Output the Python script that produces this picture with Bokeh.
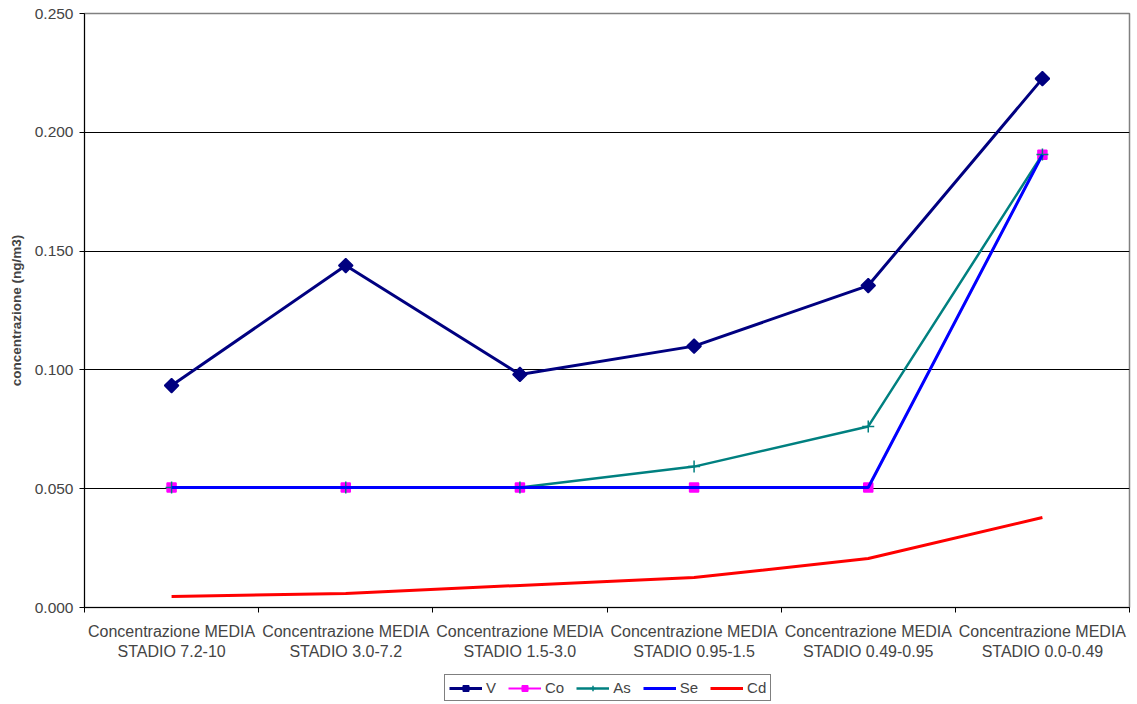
import math
from bokeh.plotting import figure
from bokeh.layouts import column
from bokeh.models import (FixedTicker, Legend, LegendItem, Range1d, NumeralTickFormatter)
from bokeh.embed import file_html
from bokeh.resources import INLINE

categories = ["Concentrazione MEDIA\nSTADIO 7.2-10", "Concentrazione MEDIA\nSTADIO 3.0-7.2",
              "Concentrazione MEDIA\nSTADIO 1.5-3.0", "Concentrazione MEDIA\nSTADIO 0.95-1.5",
              "Concentrazione MEDIA\nSTADIO 0.49-0.95", "Concentrazione MEDIA\nSTADIO 0.0-0.49"]
V = [0.0934, 0.1439, 0.0981, 0.1100, 0.1355, 0.2226]
Co = [0.0505, 0.0505, 0.0505, 0.0505, 0.0505, 0.1905]
As = [0.0505, 0.0505, 0.0505, 0.0593, 0.0762, 0.1907]
Se = [0.0505, 0.0505, 0.0505, 0.0505, 0.0505, 0.1905]
Cd = [0.0046, 0.0059, 0.0093, 0.0126, 0.0206, 0.0379]
y_ticks = [0.0, 0.05, 0.10, 0.15, 0.20, 0.25]

xs = [i + 0.5 for i in range(len(categories))]
FONT = "Liberation Sans"
W = 1131

p = figure(width=W, height=662, output_backend="svg", toolbar_location=None,
           x_range=Range1d(0, len(categories)), y_range=Range1d(0, 0.25),
           min_border_left=84, min_border_top=13, min_border_right=2, min_border_bottom=55,
           outline_line_color="#808080", outline_line_width=1.5)

# axes
p.xaxis.axis_label = None
p.xaxis.ticker = FixedTicker(ticks=xs, minor_ticks=list(range(len(categories) + 1)))
p.xaxis.major_label_overrides = {x: c for x, c in zip(xs, categories)}
p.xaxis.major_tick_line_color = None
p.xaxis.minor_tick_line_color = "black"
p.xaxis.minor_tick_out = 5
p.xaxis.minor_tick_in = 0
p.xaxis.axis_line_color = "black"
p.xaxis.major_label_text_font = FONT
p.xaxis.major_label_text_font_size = "16px"
p.xaxis.major_label_standoff = 9

p.yaxis.ticker = FixedTicker(ticks=y_ticks, minor_ticks=[])
p.yaxis.formatter = NumeralTickFormatter(format="0.000")
p.yaxis.major_tick_out = 5
p.yaxis.major_tick_in = 0
p.yaxis.axis_line_color = "black"
p.yaxis.major_tick_line_color = "black"
p.yaxis.major_label_text_font = FONT
p.yaxis.major_label_text_font_size = "15.5px"
p.yaxis.major_label_standoff = 6
p.yaxis.axis_label = "concentrazione (ng/m3)"
p.yaxis.axis_label_text_font = FONT
p.yaxis.axis_label_text_font_style = "bold"
p.yaxis.axis_label_text_font_size = "13.5px"
p.yaxis.axis_label_standoff = 8

p.xgrid.grid_line_color = None
p.ygrid.ticker = FixedTicker(ticks=y_ticks)
p.ygrid.grid_line_color = "black"
p.ygrid.grid_line_width = 1

STYLE = {
    "V": dict(color="#000080", width=3, marker="square", angle=math.pi / 4, size=10),
    "Co": dict(color="#FF00FF", width=2, marker="square", angle=0, size=9),
    "As": dict(color="#008080", width=2.5, marker="cross", angle=0, size=12),
    "Se": dict(color="#0000FF", width=3, marker=None),
    "Cd": dict(color="#FF0000", width=3, marker=None),
}
series = [("V", V), ("Co", Co), ("As", As), ("Se", Se), ("Cd", Cd)]


def draw(fig):
    items = []
    for name, vals in series:
        st = STYLE[name]
        rs = [fig.line(xs, vals, line_color=st["color"], line_width=st["width"])]
        if st["marker"]:
            rs.append(fig.scatter(xs, vals, marker=st["marker"], angle=st["angle"], size=st["size"],
                                  fill_color=st["color"], line_color=st["color"], line_width=1.5))
        items.append(LegendItem(label=name, renderers=rs))
    return items


draw(p)

# legend strip (its own renderers lie outside its ranges, only the legend shows)
pl = figure(width=W, height=40, output_backend="svg", toolbar_location=None,
            x_range=Range1d(100, 101), y_range=Range1d(100, 101),
            x_axis_type=None, y_axis_type=None, outline_line_color=None,
            min_border_left=0, min_border_right=0, min_border_top=0, min_border_bottom=0)
pl.grid.visible = False
items = draw(pl)
legend = Legend(items=items, orientation="horizontal", location=(360, 1),
                border_line_color="black", border_line_width=1,
                label_text_font=FONT, label_text_font_size="15px",
                glyph_width=33, glyph_height=14, spacing=12, padding=4, margin=0,
                label_standoff=4, label_width=0, background_fill_alpha=1)
pl.add_layout(legend, "center")

open("out.html", "w").write(file_html(column(p, pl, spacing=0), INLINE))
